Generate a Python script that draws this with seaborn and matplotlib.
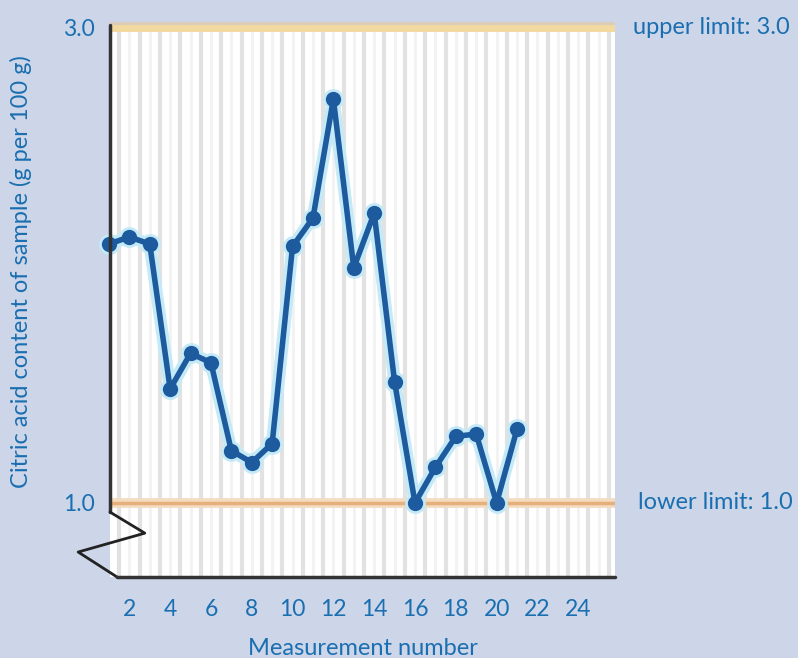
import matplotlib
matplotlib.use('Agg')

import numpy as np
import matplotlib.pyplot as plt
import seaborn as sns

measurement = list(range(1, 22))
citric_acid = [2.09, 2.12, 2.09, 1.48, 1.63, 1.59, 1.22, 1.17, 1.25, 2.08, 2.20,
               2.70, 1.99, 2.22, 1.51, 1.00, 1.15, 1.28, 1.29, 1.00, 1.31]
x_ticks = [2, 4, 6, 8, 10, 12, 14, 16, 18, 20, 22, 24]
y_ticks = [1.0, 3.0]
upper_limit = 3.0
lower_limit = 1.0

bg = '#cdd5e9'
txt = '#1a6fb0'
line_col = '#1d5b9e'

sns.set_theme(style="white")
plt.rcParams['font.family'] = ['Lato', 'DejaVu Sans']

fig = plt.figure(figsize=(7.98, 6.58), dpi=100, facecolor=bg)
ax = fig.add_axes([0.1378, 0.1231, 0.6328, 0.8435])
ax.set_facecolor('white')

ax.set_xlim(1.05, 25.8)
ax.set_ylim(0.688, 3.025)

# graph-paper stripes
for xv in np.arange(1.5, 26, 1.0):
    ax.axvline(xv, color='#e2e2e2', lw=3, zorder=0)
for xv in np.arange(2.0, 26, 1.0):
    ax.axvline(xv, color='#f2f2f2', lw=2, zorder=0)

# limit lines
ax.axhspan(upper_limit, 3.1, color='#dccdb8', zorder=1)
ax.axhline(upper_limit, color='#f2d9a0', lw=5, zorder=1)
ax.axhline(lower_limit, color='#f3dcc0', lw=7, zorder=1)
ax.axhline(lower_limit, color='#e6b07c', lw=2.5, zorder=1)

# glow + line
sns.lineplot(x=measurement, y=citric_acid, ax=ax, color='#c4e9f7', lw=9,
             marker='o', markersize=15, markeredgewidth=0, zorder=3, clip_on=False)
sns.lineplot(x=measurement, y=citric_acid, ax=ax, color=line_col, lw=4,
             marker='o', markersize=11, markeredgewidth=0, zorder=4, clip_on=False)

for s in ax.spines.values():
    s.set_visible(False)

# axes with break mark
ax.plot([0, 0], [0.117, 0.995], transform=ax.transAxes, color='#333333', lw=2.5,
        clip_on=False, zorder=5)
ax.plot([0, 0.069, -0.063, 0.014], [0.117, 0.079, 0.045, 0.0], transform=ax.transAxes,
        color='#222222', lw=2, clip_on=False, zorder=5)
ax.plot([0.014, 1], [0, 0], transform=ax.transAxes, color='#333333', lw=2.5,
        clip_on=False, zorder=5)

ax.set_xticks(x_ticks)
ax.set_xticklabels([str(t) for t in x_ticks])
ax.set_yticks(y_ticks)
ax.set_yticklabels(['1.0', '3.0'])
ax.tick_params(axis='x', direction='out', length=4, width=2, color='#333333',
               pad=12, labelsize=16.5, labelcolor=txt)
ax.tick_params(axis='y', length=0, pad=11, labelsize=16.5, labelcolor=txt)

ax.set_xlabel("Measurement number", fontsize=17, color=txt)
ax.set_ylabel("Citric acid content of sample (g per 100 g)", fontsize=17, color=txt)
ax.xaxis.set_label_coords(0.5, -0.11)
ax.yaxis.set_label_coords(-0.155, 0.55)

tr = matplotlib.transforms.blended_transform_factory(ax.transAxes, ax.transData)
ax.text(1.036, upper_limit, "upper limit: 3.0", transform=tr, fontsize=17,
        color=txt, va='center', ha='left')
ax.text(1.045, lower_limit, "lower limit: 1.0", transform=tr, fontsize=17,
        color=txt, va='center', ha='left')

fig.savefig("out.png", dpi=100, facecolor=bg)
